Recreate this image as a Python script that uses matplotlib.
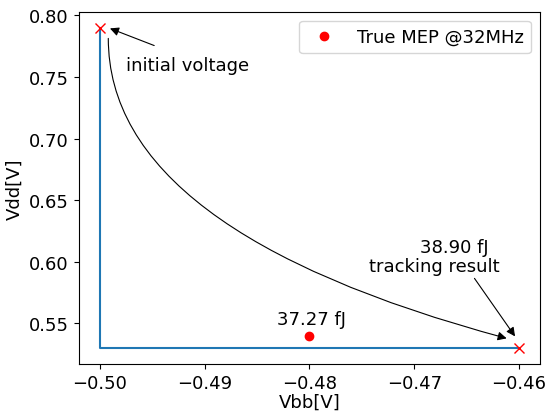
import matplotlib
matplotlib.use("Agg")
import matplotlib.pyplot as plt

# tracking path (Vbb, Vdd)
path_vbb = [-0.50, -0.50, -0.46]
path_vdd = [0.79, 0.53, 0.53]

# start / end of tracking
end_vbb = [-0.50, -0.46]
end_vdd = [0.79, 0.53]

# true minimum energy point
mep_vbb = [-0.48]
mep_vdd = [0.54]
mep_energy = "37.27 fJ"
track_energy = "38.90 fJ"

plt.rcParams['font.size'] = 13

fig = plt.figure(figsize=(5.47, 4.14), dpi=100)
ax = fig.add_axes([0.1439, 0.1184, 0.8433, 0.851])

ax.plot(path_vbb, path_vdd)
ax.plot(end_vbb, end_vdd, 'rx', markersize=7)
ax.plot(mep_vbb, mep_vdd, 'ro', label="True MEP @32MHz")

ax.text(-0.4831, 0.5497, mep_energy)
ax.text(-0.4743, 0.5928, "tracking result")
ax.text(-0.4694, 0.6077, track_energy)
ax.text(-0.4975, 0.7558, "initial voltage")

arrow = dict(arrowstyle='-|>', color='black', lw=0.8, shrinkA=0, shrinkB=0)
ax.annotate("", xy=(-0.49902, 0.7894), xytext=(-0.4948, 0.7755), arrowprops=arrow)
ax.annotate("", xy=(-0.46038, 0.5394), xytext=(-0.46425, 0.5865), arrowprops=arrow)
# curved arrow from initial point to tracking result
ax.annotate("", xy=(-0.46118, 0.5378), xytext=(-0.49918, 0.7813),
            arrowprops=dict(arrowstyle='-|>', color='black', lw=0.8,
                            shrinkA=0, shrinkB=0,
                            connectionstyle='angle3,angleA=90,angleB=-15'))

ax.set_xlabel("Vbb[V]", labelpad=0.5)
ax.set_ylabel("Vdd[V]")
ax.set_xticks([-0.50, -0.49, -0.48, -0.47, -0.46])
ax.legend(loc='upper right')

fig.savefig("out.png", dpi=100)
